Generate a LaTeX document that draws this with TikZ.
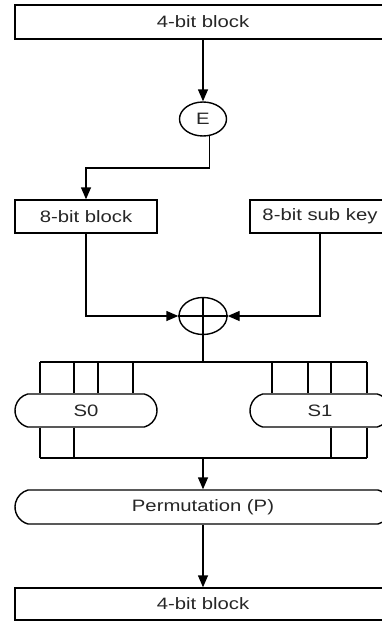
\documentclass[tikz,border=0pt]{standalone}
\usepackage{fontspec}
\setmainfont[FakeStretch=1.23]{Liberation Sans}
\usetikzlibrary{shapes.geometric,shapes.misc,arrows.meta,calc}
\begin{document}
\begin{tikzpicture}[x=1pt,y=-1pt,
  every node/.style={font=\fontsize{16.5}{18}\selectfont, text=black!85, inner sep=0pt},
  blk/.style={draw, rectangle, line width=1.4pt, minimum height=34pt},
  sbox/.style={draw, rounded rectangle, rounded rectangle arc length=150, line width=1.4pt, minimum height=33pt},
  oval/.style={draw, ellipse, line width=1.4pt},
  wire/.style={line width=1.4pt},
  arr/.style={wire, -{Triangle[length=12pt,width=10pt]}}]
\useasboundingbox (0,0) rectangle (382,621);
\clip (0,0) rectangle (382,621);

% blocks
\node[blk, minimum width=376pt] (in) at (203,22) {4-bit block};
\node[oval, minimum width=47pt, minimum height=34pt] (E) at (203,119) {E};
\node[blk, minimum width=142pt, minimum height=33pt] (b8) at (86,216.5) {8-bit block};
\node[blk, minimum width=140pt, minimum height=33pt] (key) at (320,216.5) {8-bit sub key};
\node[oval, minimum width=48pt, minimum height=37pt] (xor) at (203,316) {};
\node[sbox, minimum width=142pt] (s0) at (86,410.5) {S0};
\node[sbox, minimum width=140pt] (s1) at (320,410.5) {S1};
\node[sbox, minimum width=376pt, minimum height=34pt] (perm) at (203,507) {Permutation (P)};
\node[blk, minimum width=376pt, minimum height=32pt] (out) at (203,604) {4-bit block};

% bus coordinates
\coordinate (bend) at (209,168);
\coordinate (busTop) at (203,362);
\coordinate (busTL) at (40,362);
\coordinate (busTR) at (367,362);
\coordinate (busBot) at (203,458);
\coordinate (busBL) at (40,458);
\coordinate (busBR) at (367,458);

% expansion path
\draw[arr] (in.south) -- (E.north);
\draw[arr] (E.-70) -- (E.-70 |- bend) -| (b8.north);

% XOR inputs and cross
\draw[arr] (b8.south) |- (xor.west);
\draw[arr] (key.south) |- (xor.east);
\draw[wire] (xor.west) -- (xor.east);
\draw[wire] (xor.north) -- (busTop);

% S-box buses
\draw[wire] (busTL) -- (busTR);
\foreach \x in {40,74,98,133} \draw[wire] (\x,362) -- (\x,0 |- s0.north);
\foreach \x in {272,308,331,367} \draw[wire] (\x,362) -- (\x,0 |- s1.north);
\foreach \x in {40,74} \draw[wire] (\x,0 |- s0.south) -- (\x,458);
\foreach \x in {331,367} \draw[wire] (\x,0 |- s1.south) -- (\x,458);
\draw[wire] (busBL) -- (busBR);

% permutation and output
\draw[arr] (busBot) -- (perm.north);
\draw[arr] (perm.south) -- (out.north);
\end{tikzpicture}
\end{document}
